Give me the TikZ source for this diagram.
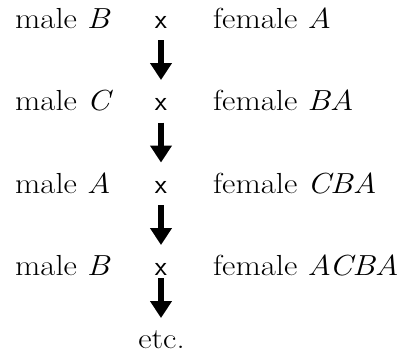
\documentclass[tikz,border=0pt]{standalone}
\usepackage{fontspec}
\setmainfont{Latin Modern Roman}[FakeStretch=1.13]
\setsansfont{Latin Modern Sans}
\usetikzlibrary{arrows.meta}
\begin{document}
\begin{tikzpicture}[x=1pt,y=-1pt,
  lbl/.style={inner sep=0pt,font=\fontsize{29}{31}\selectfont},
  crs/.style={inner sep=0pt,font=\fontsize{28}{30}\selectfont\sffamily},
  bigarrow/.style={line width=5.5pt,-{Triangle[width=21pt,length=17pt]}}]
\useasboundingbox (0,0) rectangle (404,354);
% row 1
\node[lbl,anchor=base west] (m1) at (15,28) {male \textit{B}};
\node[crs,anchor=base] (x1) at (161,28) {x};
\node[lbl,anchor=base west] (f1) at (213,28) {female \textit{A}};
% row 2
\node[lbl,anchor=base west] (m2) at (15,110.5) {male \textit{C}};
\node[crs,anchor=base] (x2) at (161,110.5) {x};
\node[lbl,anchor=base west] (f2) at (213,110.5) {female \textit{BA}};
% row 3
\node[lbl,anchor=base west] (m3) at (15,193) {male \textit{A}};
\node[crs,anchor=base] (x3) at (161,193) {x};
\node[lbl,anchor=base west] (f3) at (213,193) {female \textit{CBA}};
% row 4
\node[lbl,anchor=base west] (m4) at (15,275.5) {male \textit{B}};
\node[crs,anchor=base] (x4) at (161,275.5) {x};
\node[lbl,anchor=base west] (f4) at (213,275.5) {female \textit{ACBA}};
% etc
\node[lbl,anchor=base] (etc) at (161.5,348) {etc.};
% arrows
\coordinate (a1s) at (161,40);  \coordinate (a1e) at (161,80);
\coordinate (a2s) at (161,122.5); \coordinate (a2e) at (161,162.5);
\coordinate (a3s) at (161,205); \coordinate (a3e) at (161,245);
\coordinate (a4s) at (161,278); \coordinate (a4e) at (161,318);
\draw[bigarrow] (a1s) -- (a1e);
\draw[bigarrow] (a2s) -- (a2e);
\draw[bigarrow] (a3s) -- (a3e);
\draw[bigarrow] (a4s) -- (a4e);
\end{tikzpicture}
\end{document}
